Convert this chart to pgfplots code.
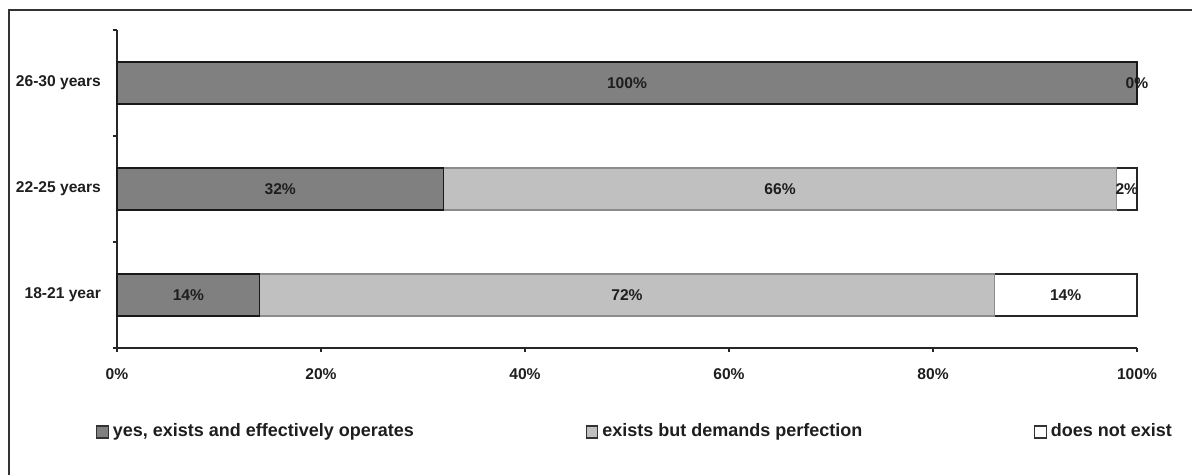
\documentclass[border=0pt]{standalone}
\usepackage{pgfplots}
\pgfplotsset{compat=1.18}
\usepackage{fontspec}
\setmainfont{Liberation Sans}
\definecolor{dgray}{HTML}{808080}
\definecolor{lgray}{HTML}{C0C0C0}
\definecolor{txt}{HTML}{1E1E1E}
\begin{document}
\begin{tikzpicture}[x=1pt,y=1pt]
\useasboundingbox (0,0) rectangle (596,-237.5);
\draw[line width=0.6pt, black!80] (4.5,-240) -- (4.5,-5) -- (600,-5);
\pgfplotsset{myaxis/.style={
  at={(58.5pt,-174pt)}, anchor=south west,
  scale only axis, width=510pt, height=159pt,
  xmin=0, xmax=100, ymin=-0.5, ymax=2.5, clip=false,
}}
\begin{axis}[myaxis,
  xbar stacked, bar width=21pt,
  axis x line*=bottom, axis y line*=left,
  axis line style={line width=0.8pt, black!85, -},
  tick align=outside, major tick length=2.2pt,
  tick style={line width=0.8pt, black!85},
  xtick={0,20,40,60,80,100},
  xticklabels={0\%,20\%,40\%,60\%,80\%,100\%},
  xticklabel style={yshift=-4.5pt},
  ytick={-0.5,0.5,1.5,2.5}, yticklabels={,,,},
  extra y ticks={0,1,2},
  extra y tick labels={18-21 year,22-25 years,26-30 years},
  extra y tick style={major tick length=0pt},
  yticklabel style={xshift=-4.5pt},
  ticklabel style={font=\bfseries\fontsize{7.8}{9}\selectfont, text=txt},
  legend columns=3,
  legend style={draw=none, fill=none, inner sep=0pt, at={(-0.021,-0.264)}, anchor=west,
    font=\bfseries\fontsize{9}{10}\selectfont, text=txt,
    /tikz/every even column/.append style={column sep=83.8pt}},
  legend image code/.code={\draw[#1, draw=black!80, line width=0.6pt] (0pt,-3pt) rectangle (5.8pt,3pt);},
]
\addplot[fill=dgray, draw=black!90, line width=0.6pt] coordinates {(14,0) (32,1) (100,2)};
\addplot[fill=lgray, draw=black!45, line width=0.6pt] coordinates {(72,0) (66,1) (0,2)};
\addplot[fill=white, draw=black!85, line width=0.6pt] coordinates {(14,0) (2,1) (0,2)};
\legend{{yes, exists and effectively operates}, {exists but demands perfection}, {does not exist}}
\end{axis}
\begin{axis}[myaxis, hide axis]
\addplot[only marks, mark=*, mark size=0.01pt,
  scatter/use mapped color={draw=none, fill=none},
  mark options={draw=none, fill=none},
  point meta=explicit symbolic, nodes near coords,
  every node near coord/.append style={anchor=center, font=\bfseries\fontsize{7.8}{9}\selectfont, text=txt}]
  coordinates {(7,0) [14\%] (50,0) [72\%] (93,0) [14\%]
               (16,1) [32\%] (65,1) [66\%] (99,1) [2\%]
               (50,2) [100\%] (100,2) [0\%]};
\end{axis}
\end{tikzpicture}
\end{document}
